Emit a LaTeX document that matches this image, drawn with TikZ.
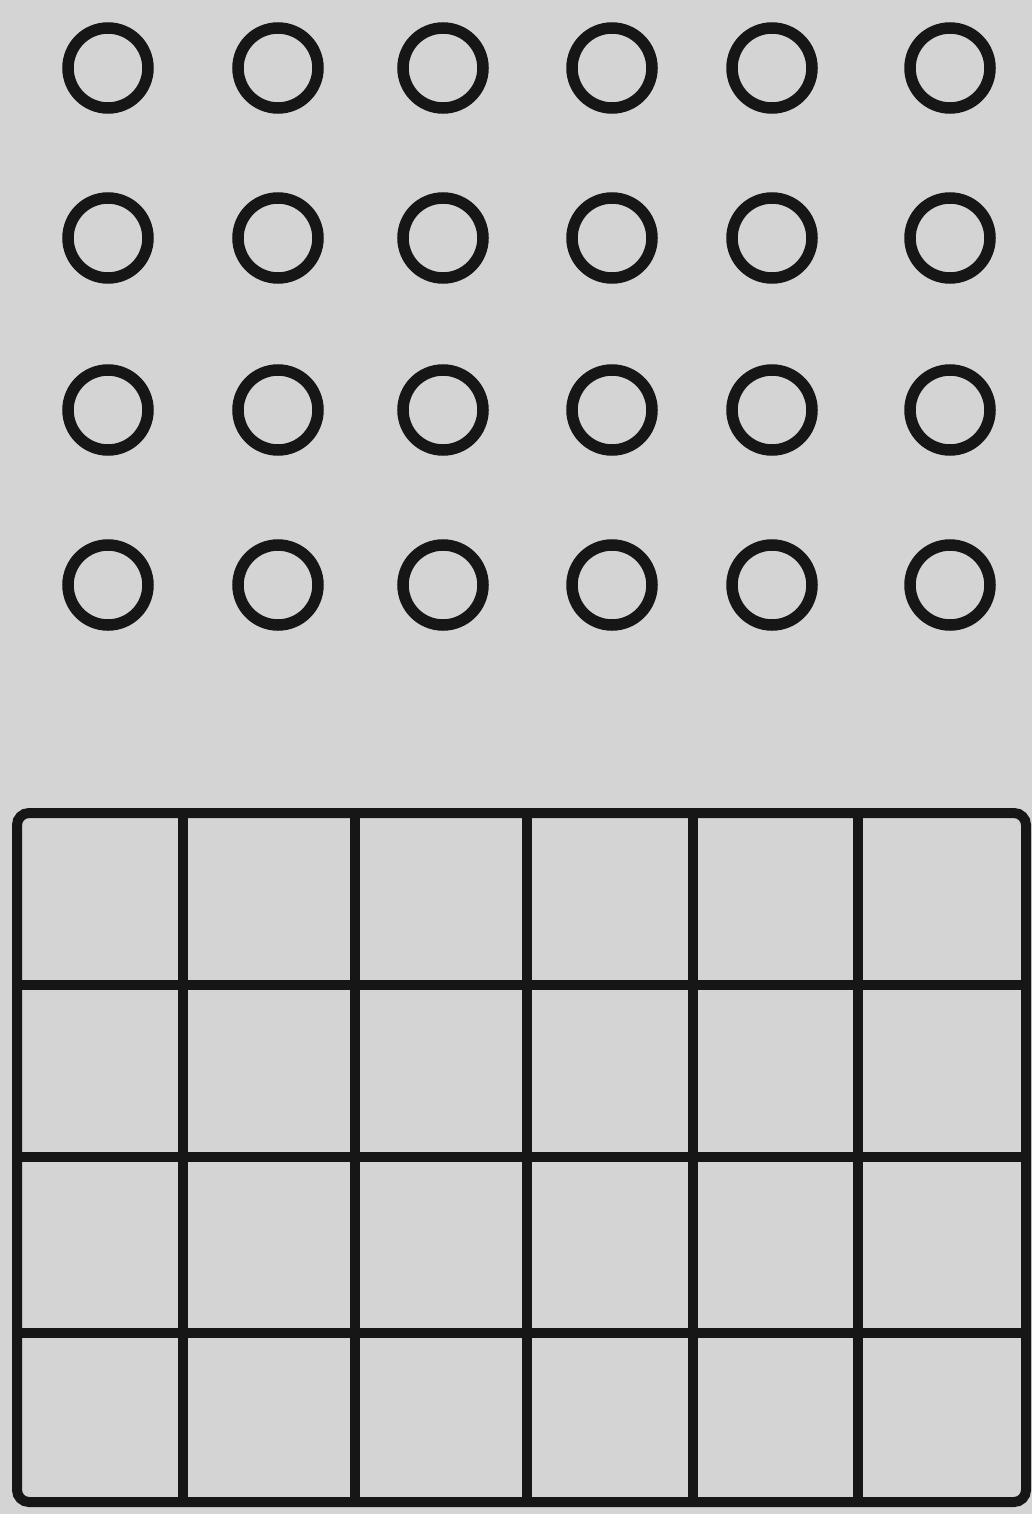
\documentclass[tikz,border=0pt]{standalone}
\definecolor{paper}{RGB}{212,212,212}
\definecolor{ink}{RGB}{22,22,22}
\tikzset{
  ring/.style={circle, draw=ink, line width=11.5pt, minimum size=80pt, inner sep=0pt},
  gridline/.style={draw=ink, line width=10pt},
}
\begin{document}
\begin{tikzpicture}[x=1pt,y=-1pt]
\fill[paper] (0,0) rectangle (1032,1514);
\useasboundingbox (0,0) rectangle (1032,1514);
% circles
\foreach \c/\x in {1/108,2/278,3/443,4/612,5/772,6/950}{
  \foreach \r/\y in {1/68,2/238,3/410,4/585}{
    \node[ring] (c\r\c) at (\x,\y) {};
  }
}
% grid
\draw[gridline, rounded corners=12pt] (17,813) rectangle (1026,1502);
\foreach \x in {183,355,527,693,858}{
  \draw[gridline] (\x,813) -- (\x,1502);
}
\foreach \y in {985,1157,1333}{
  \draw[gridline] (17,\y) -- (1026,\y);
}
\end{tikzpicture}
\end{document}
